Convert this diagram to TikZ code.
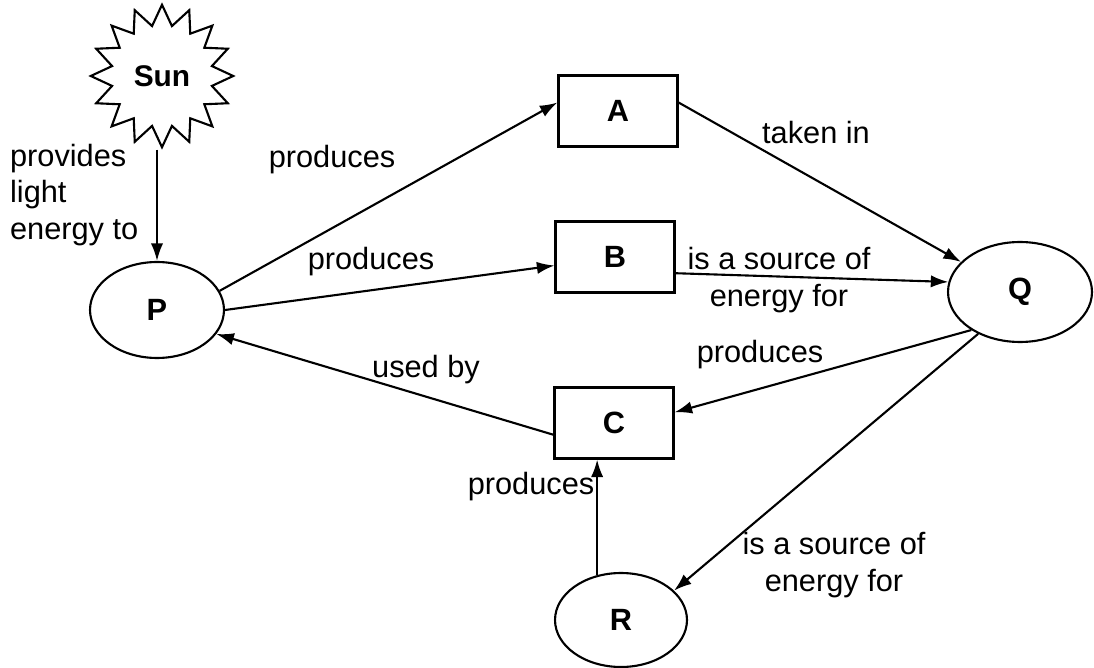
\documentclass[tikz,border=0pt]{standalone}
\usepackage{fontspec}
\setmainfont{Liberation Sans}
\usepackage{tikz}
\usetikzlibrary{arrows.meta,shapes.geometric}

\begin{document}
\begin{tikzpicture}[
    x=0.02cm, y=-0.02cm,
    txt/.style={font=\fontsize{17.5}{21}\selectfont},
    oval/.style={
      ellipse, draw, line width=1.2pt, inner sep=0pt,
      minimum width=2.68cm, minimum height=1.92cm,
      font=\fontsize{17.5}{21}\selectfont\bfseries
    },
    box/.style={
      rectangle, draw, line width=1.2pt, inner sep=0pt,
      minimum width=2.38cm, minimum height=1.42cm,
      font=\fontsize{17.5}{21}\selectfont\bfseries
    },
    sunstar/.style={
      star, star points=16, star point ratio=1.4,
      draw, line width=1.2pt, inner sep=0pt, minimum size=2.85cm,
      font=\fontsize{17}{21}\selectfont\bfseries
    },
    lbl/.style={txt, align=center, inner sep=1pt},
    arr/.style={-{Latex[length=10pt,width=7pt]}, line width=1.2pt},
  ]
  \useasboundingbox (0,0) rectangle (1094,668);

  % Sun and organisms
  \node[sunstar] (sun) at (162,76)  {Sun};
  \node[oval]    (P)   at (157,310) {P};
  \node[oval, minimum width=2.88cm, minimum height=2cm] (Q) at (1020,292) {Q};
  \node[oval, minimum width=2.64cm, minimum height=1.88cm] (R) at (621,620) {R};

  % Substances
  \node[box] (A) at (618,111) {A};
  \node[box] (B) at (615,257) {B};
  \node[box] (C) at (614,423) {C};

  % Edges
  \draw[arr] (P.north |- sun.south) -- (P.north);
  \draw[arr] (P.17)   -- (A.172);
  \draw[arr] (P.east) -- (B.188);
  \draw[arr] (A.8)    -- (Q.153);
  \draw[arr] (B.-15)  -- (Q.172);
  \draw[arr] (Q.218)  -- (C.10);
  \draw[arr] (Q.225)  -- (R.29);
  \draw[arr] (C.191)  -- (P.-22);
  \draw[arr] (R.118)  -- (R.118 |- C.south);

  % Labels
  \node[lbl, align=left, anchor=west] (lsun) at (8,195) {provides\\light\\energy to};
  \node[lbl] (lpa) at (332,160) {produces};
  \node[lbl] (lpb) at (371,262) {produces};
  \node[lbl] (laq) at (816,133) {taken in};
  \node[lbl] (lbq) at (779,280) {is a source of\\energy for};
  \node[lbl] (lqc) at (760,355) {produces};
  \node[lbl] (lcp) at (426,370) {used by};
  \node[lbl] (lrc) at (531,487) {produces};
  \node[lbl] (lqr) at (834,565) {is a source of\\energy for};

\end{tikzpicture}
\end{document}
